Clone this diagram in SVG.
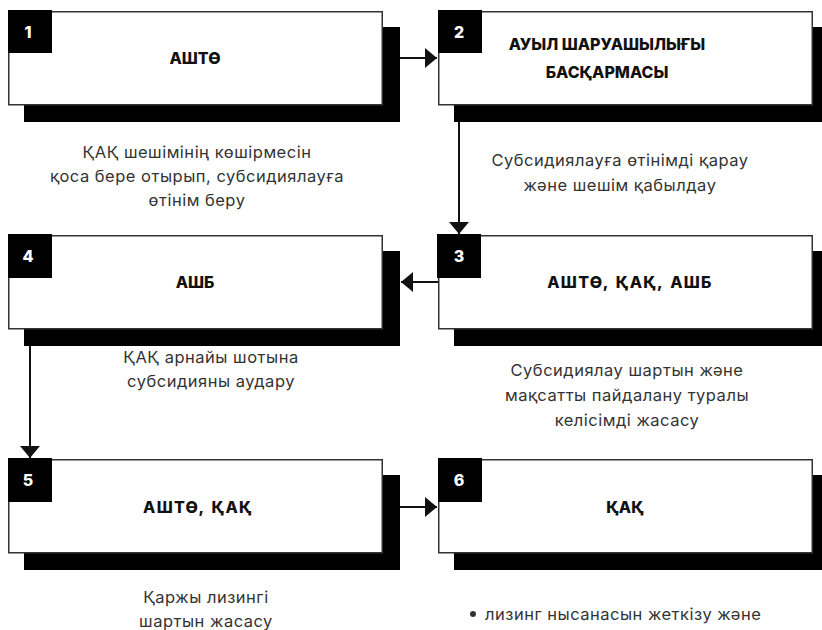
<svg xmlns="http://www.w3.org/2000/svg" width="822" height="630" viewBox="0 0 822 630">
  <defs>
    <marker id="arrow" markerUnits="userSpaceOnUse" markerWidth="12" markerHeight="20" viewBox="0 0 12 20" refX="12" refY="10" orient="auto">
      <path d="M0,0 L12,10 L0,20 Z" fill="#111"/>
    </marker>
  </defs>
  <style>
    .shadow { fill: #000; }
    .box { fill: #fff; stroke: #333; stroke-width: 1.5; }
    .tab { fill: #000; }
    .num { font-family: Inter, "Noto Sans", "Liberation Sans", sans-serif; font-weight: 800; font-size: 16px; fill: #fff; text-anchor: middle; }
    .title { font-family: Inter, "Noto Sans", "Liberation Sans", sans-serif; font-weight: 800; font-size: 16px; fill: #111; text-anchor: middle; }
    .wide { letter-spacing: 1.3px; word-spacing: 2px; }
    .body { font-family: Inter, "Noto Sans", "Liberation Sans", sans-serif; font-weight: 400; font-size: 16.5px; letter-spacing: 0.5px; fill: #333; text-anchor: middle; }
    .conn { stroke: #111; stroke-width: 2; fill: none; marker-end: url(#arrow); }
  </style>
  <rect width="822" height="630" fill="#fff"/>

  <g id="connectors">
    <line class="conn" x1="400" y1="58" x2="437" y2="58"/>
    <line class="conn" x1="459" y1="122" x2="459" y2="234"/>
    <line class="conn" x1="438" y1="282" x2="401" y2="282"/>
    <line class="conn" x1="30" y1="346" x2="30" y2="458"/>
    <line class="conn" x1="400" y1="507" x2="437" y2="507"/>
  </g>

  <g id="node1">
    <rect class="shadow" x="24" y="27" width="376" height="95"/>
    <rect class="box" x="8.75" y="11.75" width="373.5" height="93"/>
    <rect class="tab" x="8" y="10" width="44" height="43"/>
    <text class="num" x="28" y="38">1</text>
    <text class="title" x="195" y="64">АШТӨ</text>
    <text class="body" x="197" y="158">ҚАҚ шешімінің көшірмесін</text>
    <text class="body" x="197" y="182">қоса бере отырып, субсидиялауға</text>
    <text class="body" x="197" y="206">өтінім беру</text>
  </g>

  <g id="node2">
    <rect class="shadow" x="454" y="27" width="368" height="95"/>
    <rect class="box" x="438.75" y="11.75" width="373.5" height="93"/>
    <rect class="tab" x="438" y="10" width="44" height="43"/>
    <text class="num" x="459" y="38">2</text>
    <text class="title" x="607" y="50">АУЫЛ ШАРУАШЫЛЫҒЫ</text>
    <text class="title" x="607" y="78">БАСҚАРМАСЫ</text>
    <text class="body" x="620" y="166">Субсидиялауға өтінімді қарау</text>
    <text class="body" x="620" y="191">және шешім қабылдау</text>
  </g>

  <g id="node3">
    <rect class="shadow" x="454" y="251" width="368" height="95"/>
    <rect class="box" x="438.75" y="235.75" width="373.5" height="93"/>
    <rect class="tab" x="437" y="234" width="44" height="44"/>
    <text class="num" x="459" y="262">3</text>
    <text class="title wide" x="630" y="288">АШТӨ, ҚАҚ, АШБ</text>
    <text class="body" x="627" y="376">Субсидиялау шартын және</text>
    <text class="body" x="627" y="401">мақсатты пайдалану туралы</text>
    <text class="body" x="627" y="426">келісімді жасасу</text>
  </g>

  <g id="node4">
    <rect class="shadow" x="24" y="251" width="376" height="95"/>
    <rect class="box" x="8.75" y="235.75" width="373.5" height="93"/>
    <rect class="tab" x="8" y="234" width="44" height="44"/>
    <text class="num" x="28" y="262">4</text>
    <text class="title" x="195" y="288">АШБ</text>
    <text class="body" x="211" y="363">ҚАҚ арнайы шотына</text>
    <text class="body" x="211" y="387">субсидияны аудару</text>
  </g>

  <g id="node5">
    <rect class="shadow" x="24" y="475" width="376" height="95"/>
    <rect class="box" x="8.75" y="459.75" width="373.5" height="93"/>
    <rect class="tab" x="8" y="458" width="44" height="44"/>
    <text class="num" x="28" y="486">5</text>
    <text class="title wide" x="198" y="513">АШТӨ, ҚАҚ</text>
    <text class="body" x="206" y="603">Қаржы лизингі</text>
    <text class="body" x="206" y="627">шартын жасасу</text>
  </g>

  <g id="node6">
    <rect class="shadow" x="454" y="475" width="368" height="95"/>
    <rect class="box" x="438.75" y="459.75" width="373.5" height="93"/>
    <rect class="tab" x="438" y="458" width="44" height="44"/>
    <text class="num" x="459" y="486">6</text>
    <text class="title" x="625" y="513">ҚАҚ</text>
    <circle cx="473" cy="614" r="3" fill="#333"/>
    <text class="body" x="485" y="620" style="text-anchor:start">лизинг нысанасын жеткізу және</text>
  </g>
</svg>
